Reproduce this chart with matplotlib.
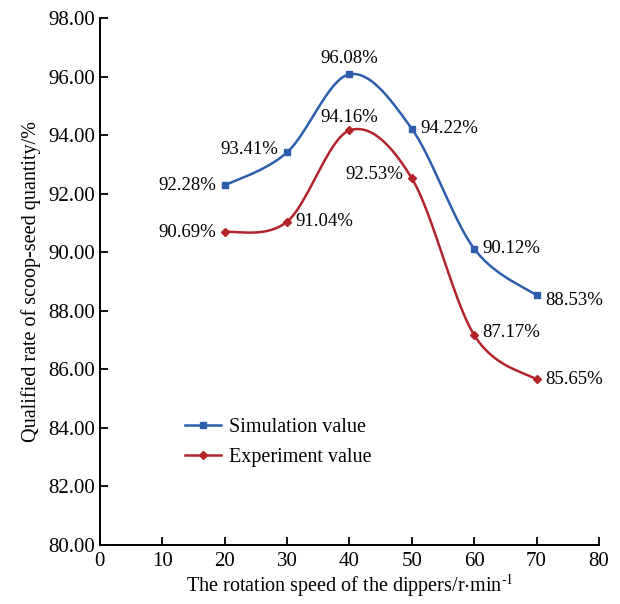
import numpy as np
import matplotlib
matplotlib.use("Agg")
import matplotlib.pyplot as plt

plt.rcParams['font.family'] = ['Liberation Serif', 'DejaVu Serif']
plt.rcParams['mathtext.fontset'] = 'stix'

speed = [20, 30, 40, 50, 60, 70]
simulation = [92.28, 93.41, 96.08, 94.22, 90.12, 88.53]
experiment = [90.69, 91.04, 94.16, 92.53, 87.17, 85.65]
sim_labels = ["92.28%", "93.41%", "96.08%", "94.22%", "90.12%", "88.53%"]
exp_labels = ["90.69%", "91.04%", "94.16%", "92.53%", "87.17%", "85.65%"]
xticks = [0, 10, 20, 30, 40, 50, 60, 70, 80]
yticks = [80, 82, 84, 86, 88, 90, 92, 94, 96, 98]

blue = '#2c5eac'
red = '#b2242a'


def smooth(x, y, n=40, t=0.5):
    x = np.asarray(x, float); y = np.asarray(y, float)
    P = np.column_stack([x, y])
    out = []
    for i in range(len(P) - 1):
        p0 = P[i - 1] if i > 0 else P[i]
        p1 = P[i]; p2 = P[i + 1]
        p3 = P[i + 2] if i + 2 < len(P) else P[i + 1]
        c1 = p1 + (p2 - p0) * t / 3
        c2 = p2 - (p3 - p1) * t / 3
        s = np.linspace(0, 1, n)[:, None]
        seg = (1 - s) ** 3 * p1 + 3 * (1 - s) ** 2 * s * c1 + 3 * (1 - s) * s ** 2 * c2 + s ** 3 * p2
        out.append(seg if i == 0 else seg[1:])
    B = np.vstack(out)
    return B[:, 0], B[:, 1]


fig = plt.figure(figsize=(6.2, 6.04), dpi=100)
ax = fig.add_axes([0.161, 0.098, 0.805, 0.872])

for xs, ys, c, m, lab in [(speed, simulation, blue, 's', 'Simulation value'),
                          (speed, experiment, red, 'D', 'Experiment value')]:
    ms = 4.5 if m == 's' else 4
    sx, sy = smooth(xs, ys)
    ax.plot(sx, sy, color=c, lw=1.8)
    ax.plot(xs, ys, ls='none', marker=m, ms=ms, color=c)
    ax.plot([], [], color=c, lw=1.8, marker=m, ms=ms, label=lab)

sim_off = [(-6, 0, 'right', 'center'), (-6, 2, 'right', 'center'), (0, 5, 'center', 'bottom'),
           (6, 0, 'left', 'center'), (6, 0, 'left', 'center'), (6, -4, 'left', 'center')]
exp_off = [(-6, 0, 'right', 'center'), (6, 0, 'left', 'center'), (0, 3, 'center', 'bottom'),
           (-6, 3, 'right', 'center'), (6, 2, 'left', 'center'), (6, 0, 'left', 'center')]
for xs, ys, labs, offs in [(speed, simulation, sim_labels, sim_off), (speed, experiment, exp_labels, exp_off)]:
    for x, y, l, (dx, dy, ha, va) in zip(xs, ys, labs, offs):
        ax.annotate(l, (x, y), xytext=(dx, dy), textcoords='offset points', ha=ha, va=va, fontsize=13.5)

ax.set_xlim(0, 80)
ax.set_ylim(80, 98)
ax.set_xticks(xticks)
ax.set_yticks(yticks)
ax.set_yticklabels([f"{v:.2f}" for v in yticks])
ax.tick_params(direction='in', labelsize=15, length=6, width=1.3)
ax.tick_params(axis='x', pad=5)
for s in ['top', 'right']:
    ax.spines[s].set_visible(False)
for s in ['left', 'bottom']:
    ax.spines[s].set_linewidth(1.4)

ax.set_xlabel(r"The rotation speed of the dippers/r$\cdot$min$^{\text{-1}}$", fontsize=14.5, labelpad=1)
ax.set_ylabel("Qualified rate of scoop-seed quantity/%", fontsize=14.5, labelpad=5)

ax.legend(loc='upper left', bbox_to_anchor=(0.135, 0.275), frameon=False, fontsize=14.5,
          handlelength=1.75, labelspacing=0.55, handletextpad=0.4)

fig.savefig('out.png', dpi=100)
